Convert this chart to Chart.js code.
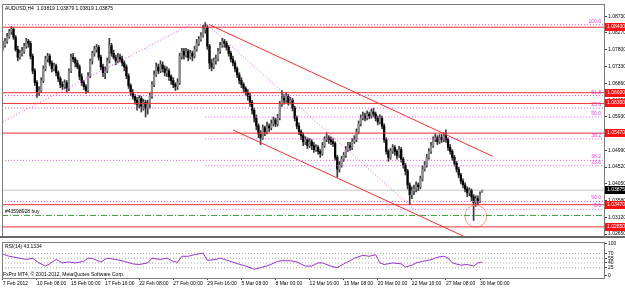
<!DOCTYPE html>
<html>
<head>
<meta charset="utf-8">
<script src="https://cdn.jsdelivr.net/npm/chart.js@4.4.1/dist/chart.umd.min.js"></script>
<style>
  html, body { margin: 0; padding: 0; background: #fff; }
  body { width: 625px; height: 288px; position: relative; overflow: hidden; }
  #priceChart { position: absolute; left: 0; top: 0; }
  #rsiChart { position: absolute; left: 0; top: 238px; }
</style>
</head>
<body>
<canvas id="priceChart" width="625" height="240"></canvas>
<canvas id="rsiChart" width="625" height="50"></canvas>
<script>
// AUDUSD H4 candles, one entry per bar (bar 0 = 7 Feb 16:00)
const barOpen = [
  1.0787,1.0792,1.0804,1.0817,1.0831,1.0837,1.0815,1.0781,1.0759,1.0770,
  1.0776,1.0790,1.0804,1.0798,1.0762,1.0721,1.0688,1.0661,1.0666,1.0694,
  1.0727,1.0754,1.0762,1.0743,1.0727,1.0735,1.0716,1.0699,1.0683,1.0677,
  1.0688,1.0672,1.0721,1.0759,1.0754,1.0743,1.0732,1.0705,1.0688,1.0677,
  1.0666,1.0707,1.0749,1.0770,1.0781,1.0787,1.0759,1.0732,1.0716,1.0721,
  1.0749,1.0792,1.0770,1.0759,1.0749,1.0759,1.0754,1.0743,1.0732,1.0707,
  1.0680,1.0661,1.0650,1.0639,1.0628,1.0644,1.0622,1.0633,1.0617,1.0628,
  1.0650,1.0683,1.0710,1.0732,1.0721,1.0738,1.0727,1.0716,1.0721,1.0705,
  1.0694,1.0683,1.0677,1.0688,1.0762,1.0776,1.0765,1.0776,1.0759,1.0770,
  1.0762,1.0781,1.0798,1.0809,1.0820,1.0837,1.0842,1.0790,1.0743,1.0732,
  1.0749,1.0754,1.0776,1.0792,1.0804,1.0798,1.0787,1.0770,1.0754,1.0743,
  1.0727,1.0710,1.0694,1.0683,1.0672,1.0661,1.0650,1.0633,1.0611,1.0589,
  1.0567,1.0545,1.0534,1.0562,1.0551,1.0567,1.0562,1.0573,1.0584,1.0573,
  1.0589,1.0628,1.0644,1.0639,1.0650,1.0633,1.0639,1.0617,1.0589,1.0567,
  1.0551,1.0540,1.0523,1.0529,1.0512,1.0523,1.0512,1.0501,1.0507,1.0496,
  1.0490,1.0512,1.0529,1.0534,1.0529,1.0523,1.0518,1.0479,1.0446,1.0457,
  1.0474,1.0485,1.0501,1.0512,1.0507,1.0523,1.0529,1.0551,1.0573,1.0589,
  1.0595,1.0589,1.0600,1.0595,1.0606,1.0600,1.0589,1.0578,1.0589,1.0567,
  1.0529,1.0496,1.0479,1.0496,1.0507,1.0496,1.0485,1.0501,1.0474,1.0457,
  1.0441,1.0402,1.0375,1.0386,1.0391,1.0402,1.0397,1.0419,1.0446,1.0457,
  1.0479,1.0496,1.0512,1.0529,1.0534,1.0523,1.0534,1.0529,1.0540,1.0529,
  1.0507,1.0496,1.0479,1.0463,1.0446,1.0430,1.0413,1.0402,1.0391,1.0380,
  1.0386,1.0369,1.0353,1.0364,1.0358,1.03819
];
const barHigh = [
  1.0804,1.0812,1.0826,1.0837,1.0845,1.0842,1.0820,1.0790,1.0779,1.0787,
  1.0798,1.0812,1.0809,1.0804,1.0768,1.0727,1.0694,1.0677,1.0702,1.0735,
  1.0762,1.0770,1.0768,1.0749,1.0743,1.0740,1.0721,1.0705,1.0691,1.0696,
  1.0694,1.0727,1.0768,1.0770,1.0759,1.0751,1.0738,1.0713,1.0694,1.0683,
  1.0716,1.0754,1.0776,1.0790,1.0795,1.0792,1.0765,1.0740,1.0732,1.0757,
  1.0812,1.0798,1.0779,1.0765,1.0770,1.0768,1.0762,1.0749,1.0738,1.0713,
  1.0685,1.0669,1.0655,1.0647,1.0652,1.0650,1.0642,1.0639,1.0639,1.0658,
  1.0691,1.0721,1.0743,1.0740,1.0749,1.0746,1.0735,1.0732,1.0727,1.0710,
  1.0702,1.0688,1.0699,1.0770,1.0784,1.0784,1.0784,1.0781,1.0779,1.0776,
  1.0790,1.0809,1.0817,1.0828,1.0848,1.0856,1.0848,1.0795,1.0754,1.0757,
  1.0765,1.0784,1.0801,1.0812,1.0809,1.0804,1.0792,1.0776,1.0762,1.0749,
  1.0732,1.0716,1.0702,1.0688,1.0677,1.0669,1.0658,1.0639,1.0617,1.0598,
  1.0573,1.0554,1.0570,1.0567,1.0578,1.0573,1.0584,1.0592,1.0589,1.0600,
  1.0636,1.0666,1.0655,1.0661,1.0655,1.0647,1.0644,1.0622,1.0595,1.0576,
  1.0556,1.0548,1.0537,1.0534,1.0532,1.0529,1.0521,1.0515,1.0512,1.0501,
  1.0521,1.0537,1.0548,1.0540,1.0537,1.0532,1.0523,1.0485,1.0468,1.0482,
  1.0493,1.0510,1.0521,1.0521,1.0532,1.0540,1.0559,1.0581,1.0598,1.0606,
  1.0603,1.0609,1.0606,1.0614,1.0617,1.0606,1.0595,1.0598,1.0595,1.0573,
  1.0534,1.0501,1.0504,1.0515,1.0512,1.0501,1.0510,1.0507,1.0479,1.0463,
  1.0446,1.0408,1.0397,1.0402,1.0411,1.0408,1.0427,1.0455,1.0468,1.0488,
  1.0504,1.0521,1.0537,1.0545,1.0540,1.0543,1.0543,1.0548,1.0556,1.0534,
  1.0515,1.0501,1.0485,1.0468,1.0452,1.0435,1.0419,1.0408,1.0397,1.0394,
  1.0391,1.0375,1.0372,1.0372,1.0383,1.03879
];
const barLow = [
  1.0779,1.0787,1.0798,1.0812,1.0823,1.0809,1.0776,1.0749,1.0754,1.0762,
  1.0770,1.0784,1.0787,1.0754,1.0713,1.0680,1.0647,1.0652,1.0661,1.0688,
  1.0721,1.0746,1.0735,1.0718,1.0721,1.0707,1.0691,1.0674,1.0669,1.0672,
  1.0661,1.0666,1.0716,1.0746,1.0732,1.0727,1.0696,1.0680,1.0669,1.0658,
  1.0661,1.0702,1.0740,1.0762,1.0773,1.0751,1.0724,1.0705,1.0699,1.0716,
  1.0743,1.0762,1.0754,1.0738,1.0743,1.0746,1.0735,1.0721,1.0699,1.0672,
  1.0652,1.0642,1.0628,1.0611,1.0617,1.0606,1.0611,1.0592,1.0600,1.0617,
  1.0644,1.0677,1.0705,1.0713,1.0716,1.0718,1.0707,1.0705,1.0694,1.0683,
  1.0674,1.0666,1.0669,1.0683,1.0754,1.0754,1.0759,1.0749,1.0754,1.0749,
  1.0757,1.0776,1.0792,1.0804,1.0815,1.0826,1.0781,1.0727,1.0721,1.0727,
  1.0740,1.0749,1.0770,1.0787,1.0787,1.0779,1.0762,1.0746,1.0735,1.0718,
  1.0702,1.0685,1.0674,1.0663,1.0652,1.0639,1.0622,1.0600,1.0578,1.0556,
  1.0534,1.0515,1.0529,1.0540,1.0545,1.0551,1.0556,1.0567,1.0565,1.0567,
  1.0584,1.0622,1.0628,1.0633,1.0625,1.0628,1.0609,1.0581,1.0559,1.0543,
  1.0529,1.0512,1.0515,1.0504,1.0507,1.0501,1.0493,1.0496,1.0488,1.0479,
  1.0485,1.0507,1.0523,1.0518,1.0515,1.0510,1.0471,1.0424,1.0438,1.0452,
  1.0468,1.0479,1.0496,1.0499,1.0501,1.0518,1.0523,1.0545,1.0567,1.0584,
  1.0581,1.0584,1.0587,1.0589,1.0592,1.0581,1.0570,1.0573,1.0559,1.0521,
  1.0488,1.0468,1.0474,1.0490,1.0485,1.0474,1.0479,1.0466,1.0449,1.0430,
  1.0391,1.0347,1.0364,1.0375,1.0383,1.0386,1.0391,1.0413,1.0441,1.0452,
  1.0474,1.0490,1.0507,1.0523,1.0515,1.0518,1.0521,1.0523,1.0521,1.0499,
  1.0488,1.0471,1.0455,1.0438,1.0422,1.0405,1.0394,1.0383,1.0369,1.0372,
  1.0358,1.0303,1.0342,1.0347,1.0353,1.03819
];
const barClose = [
  1.0792,1.0804,1.0817,1.0831,1.0837,1.0815,1.0781,1.0759,1.0770,1.0776,
  1.0790,1.0804,1.0798,1.0762,1.0721,1.0688,1.0661,1.0666,1.0694,1.0727,
  1.0754,1.0762,1.0743,1.0727,1.0735,1.0716,1.0699,1.0683,1.0677,1.0688,
  1.0672,1.0721,1.0759,1.0754,1.0743,1.0732,1.0705,1.0688,1.0677,1.0666,
  1.0707,1.0749,1.0770,1.0781,1.0787,1.0759,1.0732,1.0716,1.0721,1.0749,
  1.0792,1.0770,1.0759,1.0749,1.0759,1.0754,1.0743,1.0732,1.0707,1.0680,
  1.0661,1.0650,1.0639,1.0628,1.0644,1.0622,1.0633,1.0617,1.0628,1.0650,
  1.0683,1.0710,1.0732,1.0721,1.0738,1.0727,1.0716,1.0721,1.0705,1.0694,
  1.0683,1.0677,1.0688,1.0762,1.0776,1.0765,1.0776,1.0759,1.0770,1.0762,
  1.0781,1.0798,1.0809,1.0820,1.0837,1.0842,1.0790,1.0743,1.0732,1.0749,
  1.0754,1.0776,1.0792,1.0804,1.0798,1.0787,1.0770,1.0754,1.0743,1.0727,
  1.0710,1.0694,1.0683,1.0672,1.0661,1.0650,1.0633,1.0611,1.0589,1.0567,
  1.0545,1.0534,1.0562,1.0551,1.0567,1.0562,1.0573,1.0584,1.0573,1.0589,
  1.0628,1.0644,1.0639,1.0650,1.0633,1.0639,1.0617,1.0589,1.0567,1.0551,
  1.0540,1.0523,1.0529,1.0512,1.0523,1.0512,1.0501,1.0507,1.0496,1.0490,
  1.0512,1.0529,1.0534,1.0529,1.0523,1.0518,1.0479,1.0446,1.0457,1.0474,
  1.0485,1.0501,1.0512,1.0507,1.0523,1.0529,1.0551,1.0573,1.0589,1.0595,
  1.0589,1.0600,1.0595,1.0606,1.0600,1.0589,1.0578,1.0589,1.0567,1.0529,
  1.0496,1.0479,1.0496,1.0507,1.0496,1.0485,1.0501,1.0474,1.0457,1.0441,
  1.0402,1.0375,1.0386,1.0391,1.0402,1.0397,1.0419,1.0446,1.0457,1.0479,
  1.0496,1.0512,1.0529,1.0534,1.0523,1.0534,1.0529,1.0540,1.0529,1.0507,
  1.0496,1.0479,1.0463,1.0446,1.0430,1.0413,1.0402,1.0391,1.0380,1.0386,
  1.0369,1.0353,1.0364,1.0358,1.0375,1.03875
];

// RSI(14) read at a subset of bars
const rsiBar = [0,3,8,11,14,17,20,22,25,28,31,34,38,40,42,46,49,53,57,61,
  64,68,70,74,77,80,82,84,87,90,94,96,100,102,104,109,114,118,122,125,
  129,131,135,138,142,145,148,150,154,157,160,163,165,169,172,175,177,179,183,187,
  189,192,194,197,201,204,207,209,211,215,218,221,223,225];
const rsiVal = [68,61,55,51,55,40,30,37,51,40,43,40,45,55,54,43,55,51,45,37,
  35,40,55,51,55,45,42,61,61,66,71,48,51,55,51,40,30,20,27,33,
  45,47,47,43,30,30,40,40,30,25,37,47,55,64,61,66,40,35,40,37,
  27,33,40,45,50,58,61,55,40,33,35,30,40,43.13];
const rsiLevels = [70, 55, 40, 25];
const rsiTicks = [0, 25, 40, 55, 70, 100];

// time axis
const dateTickBars = [0,16,32,48,64,80,96,112,128,144,160,176,192,208,224];
const dateLabels = ['7 Feb 2012','10 Feb 08:00','15 Feb 00:00','17 Feb 16:00','22 Feb 08:00',
  '27 Feb 00:00','29 Feb 16:00','5 Mar 08:00','8 Mar 00:00','12 Mar 16:00',
  '15 Mar 08:00','20 Mar 00:00','22 Mar 16:00','27 Mar 08:00','30 Mar 00:00'];

// price axis
const priceTicks = [1.0873,1.0827,1.0780,1.0733,1.0686,1.0639,1.0593,1.0546,1.0499,1.0452,1.0405,1.0358,1.0312,1.0265];
const redLevels = [1.0843, 1.0660, 1.0630, 1.0547, 1.0347, 1.0285];
const lastPrice = 1.03875;
const orderLevel = 1.0317;
const orderLabel = '#43598928 buy';
const chartTitle = 'AUDUSD,H4  1.03819 1.03879 1.03819 1.03875';

// fibonacci levels
const fibFullLevels = [1.0850, 1.0652, 1.0617, 1.0471, 1.0356];
const fibPartLevels = [1.0592, 1.0531, 1.0456, 1.0334];
const fibPartStart = 95;
const fibLabelText = ['100.0','61.8','23.6','50.0','38.2','38.2','23.6','50.0','0.0'];
const fibLabelLevel = [1.0850,1.0652,1.0617,1.0592,1.0531,1.0471,1.0456,1.0356,1.0334];

// trend lines [bar, price] pairs
const redTrendUpper = [[97, 1.0850], [230, 1.0482]];
const redTrendLower = [[108, 1.0556], [217, 1.0257]];
const fibTrendB = [[-10, 1.0548], [88, 1.0850]];
const fibTrendA = [[96, 1.0850], [193, 1.0334]];
const markCircle = [222, 1.0315];

const FONT = 'Liberation Sans';
const xMin = -0.4, xMax = 282.2;

function seg(points, color, dash, order) {
  return {
    type: 'line',
    data: points.map(p => ({ x: p[0], y: p[1] })),
    borderColor: color,
    borderWidth: 1,
    borderDash: dash || [],
    pointRadius: 0,
    order: order
  };
}

const upColor = '#8c8c8c';
const downColor = '#000000';

const datasets = [];
redLevels.forEach(v => datasets.push(seg([[xMin, v], [xMax, v]], '#f03030', [], 0)));
fibFullLevels.forEach(v => datasets.push(seg([[xMin, v], [xMax, v]], '#ee55ee', [1, 2], 0)));
fibPartLevels.forEach(v => datasets.push(seg([[fibPartStart, v], [xMax, v]], '#ee55ee', [1, 2], 0)));
datasets.push(seg([[xMin, lastPrice], [xMax, lastPrice]], '#c4c4c4', [], 3));
datasets.push(seg([[xMin, orderLevel], [xMax, orderLevel]], '#3c9a3c', [6, 2, 1, 2], 0));
datasets.push(seg(redTrendUpper, '#f03030', [], 0));
datasets.push(seg(redTrendLower, '#f03030', [], 0));
datasets.push(seg(fibTrendA, '#ee55ee', [1, 2], 0));
datasets.push(seg(fibTrendB, '#ee55ee', [1, 2], 0));
datasets.push({
  type: 'scatter',
  data: [{ x: markCircle[0], y: markCircle[1] }],
  pointRadius: 11,
  pointStyle: 'circle',
  backgroundColor: 'rgba(0,0,0,0)',
  borderColor: '#f0a088',
  borderWidth: 1,
  order: 0
});
datasets.push({
  type: 'bar',
  data: barOpen.map((o, i) => ({ x: i, y: [o, barClose[i]] })),
  backgroundColor: barOpen.map((o, i) => barClose[i] >= o ? upColor : downColor),
  barThickness: 1.6,
  minBarLength: 1,
  grouped: false,
  order: 1
});
datasets.push({
  type: 'bar',
  data: barLow.map((l, i) => ({ x: i, y: [l, barHigh[i]] })),
  backgroundColor: '#3a3a3a',
  barThickness: 1,
  grouped: false,
  order: 2
});

const priceOverlay = {
  id: 'priceOverlay',
  afterDatasetsDraw(chart) {
    const { ctx, chartArea: a, scales: { y } } = chart;
    ctx.save();
    ctx.font = '5px "' + FONT + '"';
    ctx.textBaseline = 'bottom';
    ctx.textAlign = 'right';
    ctx.fillStyle = '#e040e0';
    fibLabelText.forEach((t, i) => {
      ctx.fillText(t, a.right - 3, Math.round(y.getPixelForValue(fibLabelLevel[i])) - 1);
    });
    ctx.textAlign = 'left';
    ctx.fillStyle = '#000';
    ctx.fillText(orderLabel, a.left + 3, Math.round(y.getPixelForValue(orderLevel)) - 1);
    ctx.textBaseline = 'top';
    ctx.fillText(chartTitle, a.left + 3, a.top + 2);
    ctx.restore();
  },
  afterDraw(chart) {
    const { ctx, chartArea: a, scales: { y } } = chart;
    ctx.save();
    ctx.strokeStyle = '#7c7c7c';
    ctx.lineWidth = 1;
    ctx.strokeRect(a.left + 0.5, a.top + 0.5, a.right - a.left, a.bottom - a.top);
    ctx.fillStyle = '#6a6a6a';
    ctx.fillRect(0, a.bottom, 625, 2);
    ctx.font = '5px "' + FONT + '"';
    ctx.textBaseline = 'middle';
    ctx.textAlign = 'left';
    const tag = (v, bg) => {
      const py = Math.round(y.getPixelForValue(v));
      ctx.fillStyle = bg;
      ctx.fillRect(a.right + 1, py - 4, 20, 8);
      ctx.fillStyle = '#fff';
      ctx.fillText(v.toFixed(5), a.right + 3, py);
    };
    redLevels.forEach(v => tag(v, '#ff1010'));
    tag(lastPrice, '#000');
    ctx.restore();
  }
};

new Chart(document.getElementById('priceChart'), {
  type: 'bar',
  data: { datasets },
  options: {
    responsive: false,
    animation: false,
    events: [],
    layout: { autoPadding: false, padding: { left: 2, top: 0, right: 0, bottom: 0 } },
    plugins: { legend: { display: false }, tooltip: { enabled: false } },
    scales: {
      x: { type: 'linear', min: xMin, max: xMax, offset: false, display: false },
      y: {
        position: 'right',
        min: 1.02595,
        max: 1.09079,
        afterFit(s) { s.width = 21; },
        afterBuildTicks(s) { s.ticks = priceTicks.map(v => ({ value: v })); },
        grid: { drawOnChartArea: false, drawTicks: true, tickLength: 3, color: '#444' },
        border: { display: false },
        ticks: {
          autoSkip: false,
          padding: 1,
          color: '#000',
          font: { family: FONT, size: 5 },
          callback: v => v.toFixed(5)
        }
      }
    }
  },
  plugins: [priceOverlay]
});

const rsiOverlay = {
  id: 'rsiOverlay',
  afterDraw(chart) {
    const { ctx, chartArea: a } = chart;
    ctx.save();
    ctx.strokeStyle = '#7c7c7c';
    ctx.lineWidth = 1;
    ctx.strokeRect(a.left + 0.5, a.top + 0.5, a.right - a.left, a.bottom - a.top);
    ctx.font = '5px "' + FONT + '"';
    ctx.fillStyle = '#000';
    ctx.textAlign = 'left';
    ctx.textBaseline = 'top';
    ctx.fillText('RSI(14) 43.1334', a.left + 3, a.top + 2);
    ctx.textBaseline = 'bottom';
    ctx.fillText('FxPro MT4, \u00a9 2001-2012, MetaQuotes Software Corp.', a.left + 1, a.bottom - 1);
    ctx.restore();
  }
};

new Chart(document.getElementById('rsiChart'), {
  type: 'line',
  data: {
    datasets: [
      {
        data: rsiBar.map((b, i) => ({ x: b, y: rsiVal[i] })),
        borderColor: '#9932cc',
        borderWidth: 1,
        pointRadius: 0,
        tension: 0
      },
      ...rsiLevels.map(v => ({
        data: [{ x: xMin, y: v }, { x: xMax, y: v }],
        borderColor: '#a8a8a8',
        borderWidth: 1,
        borderDash: [1, 2],
        pointRadius: 0
      }))
    ]
  },
  options: {
    responsive: false,
    animation: false,
    events: [],
    layout: { autoPadding: false, padding: { left: 2, top: 0, right: 0, bottom: 0 } },
    plugins: { legend: { display: false }, tooltip: { enabled: false } },
    scales: {
      x: {
        type: 'linear',
        min: xMin,
        max: xMax,
        afterFit(s) { s.height = 10; },
        afterBuildTicks(s) { s.ticks = dateTickBars.map(v => ({ value: v })); },
        grid: { drawOnChartArea: false, tickLength: 2, color: '#444' },
        border: { display: false },
        ticks: {
          autoSkip: false,
          maxRotation: 0,
          align: 'start',
          padding: 1,
          color: '#000',
          font: { family: FONT, size: 5 },
          callback: (v, i) => dateLabels[i]
        }
      },
      y: {
        position: 'right',
        min: -7.5,
        max: 106,
        afterFit(s) { s.width = 21; },
        afterBuildTicks(s) { s.ticks = rsiTicks.map(v => ({ value: v })); },
        grid: { drawOnChartArea: false, tickLength: 3, color: '#444' },
        border: { display: false },
        ticks: {
          autoSkip: false,
          padding: 1,
          color: '#000',
          font: { family: FONT, size: 5 },
          callback: v => String(v)
        }
      }
    }
  },
  plugins: [rsiOverlay]
});
</script>
</body>
</html>
